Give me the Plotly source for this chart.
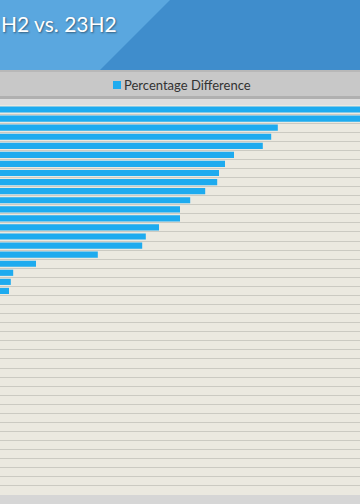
import plotly.graph_objects as go

# ---- data ----
series_name = "Percentage Difference"
categories = [f"Test {i}" for i in range(1, 44)]
values = [72.4, 65.1, 46.3, 45.2, 43.8, 39.0, 37.5, 36.5, 36.2, 34.2,
          31.7, 30.0, 30.0, 26.5, 24.3, 23.7, 16.3, 6.0, 2.2, 1.8, 1.5] + [0.0] * 22
title_text = "H2 vs. 23H2"

W, H = 360, 504
TOP, BOT = 105, 495

def py(p):  # pixel y -> paper y
    return (BOT - p) / (BOT - TOP)

def px(p):
    return p / W

n = len(categories)
ypos = list(range(n))

BAR_COLOR = "#1eabef"

fig = go.Figure()
fig.add_trace(go.Bar(
    x=values, y=ypos, orientation="h", name=series_name,
    marker=dict(color=BAR_COLOR, line=dict(width=0)),
    width=0.68, showlegend=False,
    customdata=categories, hovertemplate="%{customdata}: %{x}%<extra></extra>",
))

shapes = [
    # header light
    dict(type="rect", xref="paper", yref="paper", x0=0, x1=1, y0=py(70), y1=py(0),
         fillcolor="#5aa7df", line=dict(width=0), layer="below"),
    # header dark diagonal
    dict(type="path", xref="paper", yref="paper",
         path=f"M {px(170)},{py(0)} L {px(360)},{py(0)} L {px(360)},{py(70)} L {px(100)},{py(70)} Z",
         fillcolor="#3f8dcc", line=dict(width=0), layer="below"),
    # legend band
    dict(type="rect", xref="paper", yref="paper", x0=0, x1=1, y0=py(97), y1=py(70),
         fillcolor="#c8c8c8", line=dict(width=0), layer="below"),
    dict(type="rect", xref="paper", yref="paper", x0=0, x1=1, y0=py(72), y1=py(70),
         fillcolor="#b8b8b8", line=dict(width=0), layer="below"),
    dict(type="rect", xref="paper", yref="paper", x0=0, x1=1, y0=py(99), y1=py(96),
         fillcolor="#b0b0b0", line=dict(width=0), layer="below"),
    dict(type="rect", xref="paper", yref="paper", x0=0, x1=1, y0=py(TOP), y1=py(99),
         fillcolor="#dedede", line=dict(width=0), layer="below"),
    # bottom strip
    dict(type="rect", xref="paper", yref="paper", x0=0, x1=1, y0=py(504), y1=py(BOT),
         fillcolor="#d6d6d6", line=dict(width=0), layer="below"),
    # legend swatch
    dict(type="rect", xref="paper", yref="paper", x0=px(113), x1=px(121), y0=py(89), y1=py(81),
         fillcolor=BAR_COLOR, line=dict(width=0), layer="above"),
]

fig.update_layout(
    width=W, height=H,
    margin=dict(l=0, r=0, t=TOP, b=H - BOT, pad=0),
    paper_bgcolor="#dcdcdc",
    plot_bgcolor="#ebe9e0",
    shapes=shapes,
    showlegend=False,
    annotations=[
        dict(text=title_text, xref="paper", yref="paper", x=0, y=py(23),
             xanchor="left", yanchor="middle", showarrow=False, borderpad=0,
             font=dict(family="Lato", size=21, color="white",
                       shadow="1px 1px 2px rgba(0,0,0,0.45)")),
        dict(text=series_name, xref="paper", yref="paper", x=px(122), y=py(85),
             xanchor="left", yanchor="middle", showarrow=False,
             font=dict(family="Lato", size=13, color="#333333")),
    ],
    xaxis=dict(range=[0, 60], showgrid=False, zeroline=False, showticklabels=False,
               ticks="", fixedrange=True),
    yaxis=dict(range=[n - 0.5, -0.5], tickmode="linear", tick0=0.5, dtick=1,
               showgrid=True, gridcolor="#cbcac2", gridwidth=1, zeroline=False,
               showticklabels=False, ticks="", fixedrange=True),
    font=dict(family="Lato"),
)

fig.write_html("out.html", config={"displayModeBar": False},
               post_script="document.body.style.margin='0';document.body.style.padding='0';")
